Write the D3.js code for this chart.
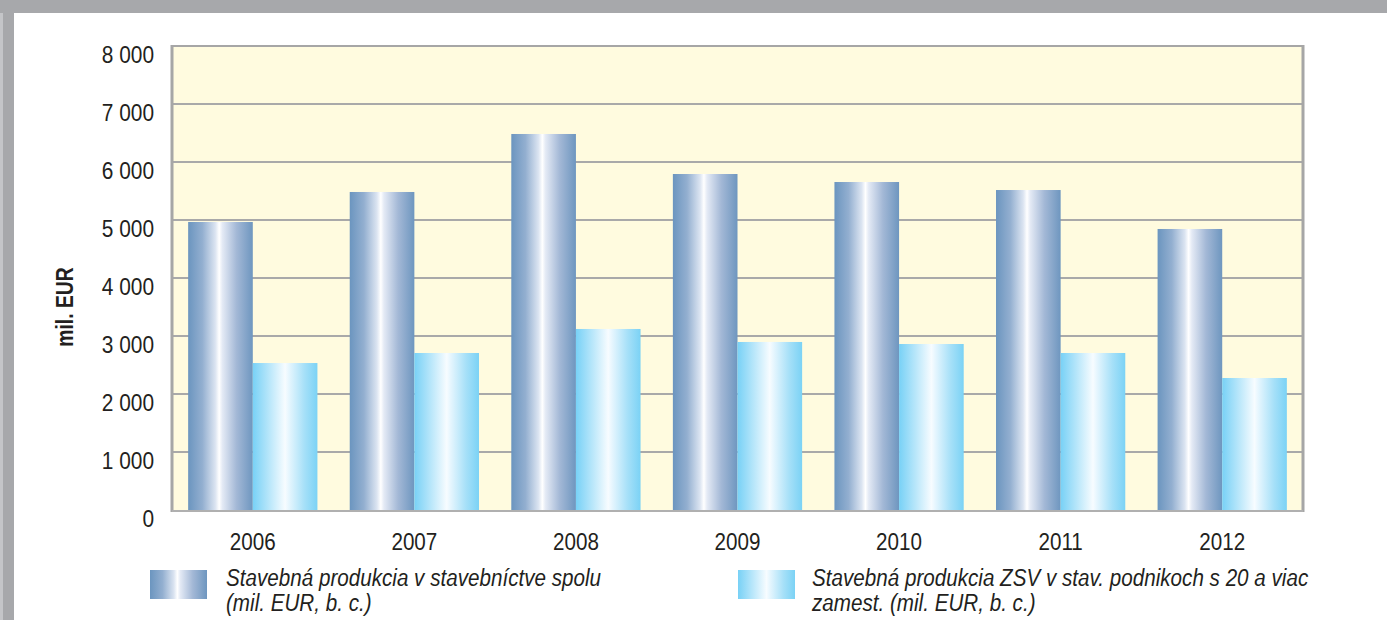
<!DOCTYPE html>
<html>
<head>
<meta charset="utf-8">
<script src="https://cdn.jsdelivr.net/npm/d3@7"></script>
<style>
  html, body { margin: 0; padding: 0; background: #ffffff; }
  svg { display: block; }
  .lbl { font-family: "Liberation Sans", Arial, "DejaVu Sans", sans-serif; fill: #231f20; }
</style>
</head>
<body>
<svg id="chart" width="1387" height="620"></svg>
<script>
const categories = ["2006", "2007", "2008", "2009", "2010", "2011", "2012"];
const seriesNames = [
  "Stavebná produkcia v stavebníctve spolu|(mil. EUR, b. c.)",
  "Stavebná produkcia ZSV v stav. podnikoch s 20 a viac|zamest. (mil. EUR, b. c.)"
];
const totalValues = [4966, 5483, 6483, 5793, 5655, 5517, 4845];
const zsvValues   = [2534, 2707, 3121, 2897, 2862, 2707, 2276];
const yTicks = [0, 1000, 2000, 3000, 4000, 5000, 6000, 7000, 8000];
const yTitle = "mil. EUR";

const svg = d3.select("#chart");
const defs = svg.append("defs");

// gradients
const g1 = defs.append("linearGradient").attr("id", "gDark").attr("x1", "0").attr("x2", "1").attr("y1", "0").attr("y2", "0");
[[0, "#6b95bf"], [0.22, "#93afd0"], [0.42, "#dbe4f1"], [0.48, "#ffffff"], [0.53, "#e4eaf5"], [0.75, "#a3b8d6"], [1, "#6e96bf"]]
  .forEach(([o, c]) => g1.append("stop").attr("offset", o).attr("stop-color", c));
const g2 = defs.append("linearGradient").attr("id", "gLight").attr("x1", "0").attr("x2", "1").attr("y1", "0").attr("y2", "0");
[[0, "#78d1f6"], [0.25, "#b7e6fa"], [0.5, "#f7fcff"], [0.56, "#e6f6fe"], [0.8, "#a6e0f8"], [1, "#7bd2f5"]]
  .forEach(([o, c]) => g2.append("stop").attr("offset", o).attr("stop-color", c));
const fills = ["url(#gDark)", "url(#gLight)"];

// frame
svg.append("rect").attr("x", 0).attr("y", 0).attr("width", 1387).attr("height", 13).attr("fill", "#a7a8ab");
svg.append("rect").attr("x", 0).attr("y", 0).attr("width", 14).attr("height", 620).attr("fill", "#a7a8ab");
svg.append("rect").attr("x", 0).attr("y", 13).attr("width", 3).attr("height", 607).attr("fill", "#c4c5c8");

const pLeft = 172, pRight = 1303, pTop = 46, pBottom = 511;

const y = d3.scaleLinear().domain([0, 8000]).range([pBottom - 1, pTop]);
const x0 = d3.scaleBand().domain(categories).range([pLeft, pRight]).paddingInner(0.2).paddingOuter(0.1);
const x1 = d3.scaleBand().domain([0, 1]).range([0, x0.bandwidth()]).padding(0);

// plot background
svg.append("rect").attr("x", pLeft).attr("y", pTop).attr("width", pRight - pLeft).attr("height", pBottom - pTop).attr("fill", "#fffbdf");

// gridlines
svg.append("g").selectAll("line").data(yTicks.filter(d => d > 0)).join("line")
  .attr("x1", pLeft).attr("x2", pRight)
  .attr("y1", d => y(d)).attr("y2", d => y(d))
  .attr("stroke", "#a9a9a9").attr("stroke-width", 2);

// bars
const data = categories.map((c, i) => ({ c, v: [totalValues[i], zsvValues[i]] }));
const groups = svg.append("g").selectAll("g").data(data).join("g")
  .attr("transform", d => `translate(${x0(d.c)},0)`);
groups.selectAll("rect").data(d => d.v.map((v, k) => ({ v, k }))).join("rect")
  .attr("x", d => x1(d.k))
  .attr("width", x1.bandwidth())
  .attr("y", d => y(d.v))
  .attr("height", d => y(0) - y(d.v))
  .attr("fill", d => fills[d.k]);

// plot border
svg.append("line").attr("x1", pLeft).attr("x2", pLeft).attr("y1", pTop - 1).attr("y2", pBottom + 1).attr("stroke", "#a6a6a6").attr("stroke-width", 3);
svg.append("line").attr("x1", pRight).attr("x2", pRight).attr("y1", pTop - 1).attr("y2", pBottom + 1).attr("stroke", "#a6a6a6").attr("stroke-width", 3);
svg.append("line").attr("x1", pLeft).attr("x2", pRight).attr("y1", pTop).attr("y2", pTop).attr("stroke", "#a6a6a6").attr("stroke-width", 2);
svg.append("line").attr("x1", pLeft).attr("x2", pRight).attr("y1", pBottom).attr("y2", pBottom).attr("stroke", "#b0b0b0").attr("stroke-width", 2);

// y axis labels (narrow font emulated by horizontal scaling)
const loc = d3.formatLocale({ decimal: ",", thousands: " ", grouping: [3], currency: ["", ""] });
const fmt = loc.format(",d");
const yAxis = d3.axisLeft(y).tickValues(yTicks).tickFormat(fmt).tickSize(0).tickPadding(0);
const ya = svg.append("g").attr("transform", `translate(154,0)`).call(yAxis);
ya.select(".domain").remove();
ya.attr("font-family", null).attr("font-size", null);
ya.selectAll("text").attr("class", "lbl").attr("font-size", 24).attr("dy", null)
  .attr("y", 16.5).attr("x", 0).attr("text-anchor", "end").attr("fill", "#231f20")
  .attr("transform", "scale(0.87,1)");

// x axis labels
const xAxis = d3.axisBottom(x0).tickSize(0).tickPadding(0);
const xa = svg.append("g").attr("transform", `translate(0,0)`).call(xAxis);
xa.select(".domain").remove();
xa.attr("font-family", null).attr("font-size", null);
xa.selectAll("text").attr("class", "lbl").attr("font-size", 24).attr("dy", null)
  .attr("y", 550).attr("fill", "#231f20")
  .attr("transform", "scale(0.86,1)");

// y title
svg.append("text").attr("class", "lbl")
  .attr("transform", "translate(73,307) rotate(-90) scale(0.84,1)")
  .attr("text-anchor", "middle").attr("font-size", 23).attr("font-weight", "bold")
  .text(yTitle);

// legend
const legendX = [[150, 226], [738, 812]];
seriesNames.forEach((name, k) => {
  svg.append("rect").attr("x", legendX[k][0]).attr("y", 570).attr("width", 57).attr("height", 29).attr("fill", fills[k]);
  name.split("|").forEach((line, j) => {
    svg.append("text").attr("class", "lbl").attr("font-size", 24).attr("font-style", "italic")
      .attr("transform", `translate(${legendX[k][1]},${586 + j * 24.5}) scale(0.86,1)`)
      .text(line);
  });
});
</script>
</body>
</html>
